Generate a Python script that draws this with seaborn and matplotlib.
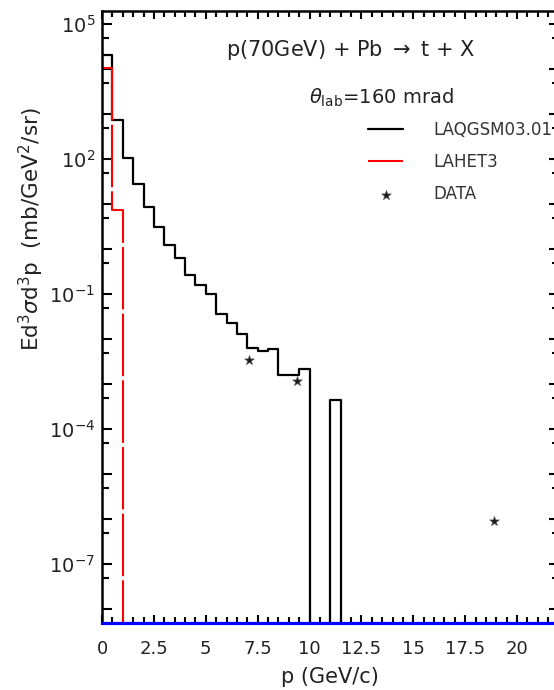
import numpy as np
import pandas as pd
import matplotlib
matplotlib.use("Agg")
import matplotlib.pyplot as plt
from matplotlib.ticker import FixedLocator, FuncFormatter, NullFormatter, MultipleLocator
import seaborn as sns

# ---------------- data ----------------
# LAQGSM03.01 histogram, bin edges 0 .. 12 GeV/c in 0.5 steps
laqgsm_edges = [0.0, 0.5, 1.0, 1.5, 2.0, 2.5, 3.0, 3.5, 4.0, 4.5, 5.0, 5.5,
                6.0, 6.5, 7.0, 7.5, 8.0, 8.5, 9.0, 9.5, 10.0, 10.5, 11.0, 11.5, 12.0]
laqgsm_vals = [2.1e4, 7.4e2, 1.05e2, 2.8e1, 8.7, 3.1, 1.23, 0.63, 0.264, 0.158,
               0.0985, 0.036, 0.023, 0.0129, 0.0062, 0.0055, 0.0060, 0.00158,
               0.00158, 0.00216, 0.0, 0.0, 4.4e-4, 0.0]
# LAHET3 histogram
lahet_edges = [0.0, 0.5, 1.0, 1.5]
lahet_vals = [1.04e4, 7.4, 0.0]
# measured data points
data_p = [7.1, 9.4, 18.9]
data_val = [3.4e-3, 1.17e-3, 9.0e-7]

x_ticks = [0, 2.5, 5, 7.5, 10, 12.5, 15, 17.5, 20]
x_ticklabels = ["0", "2.5", "5", "7.5", "10", "12.5", "15", "17.5", "20"]
y_tick_exponents = list(range(-8, 6))          # a tick at every decade
y_labelled_exponents = [5, 2, -1, -4, -7]     # decades that carry a label

FLOOR = 1e-12  # stand-in for empty bins on the log axis


def steps_frame(edges, vals):
    v = [x if x > 0 else FLOOR for x in vals]
    return pd.DataFrame({"p": edges, "y": v + [v[-1]]})


# ---------------- figure ----------------
sns.set_theme(style="ticks")
plt.rcParams["font.family"] = ["DejaVu Sans"]
plt.rcParams["axes.unicode_minus"] = True

W, H = 554, 690
fig = plt.figure(figsize=(W / 100, H / 100), dpi=100)
ax_l, ax_r, ax_t, ax_b = 102, 558.5, 11, 623
ax = fig.add_axes([ax_l / W, 1 - ax_b / H, (ax_r - ax_l) / W, (ax_b - ax_t) / H])

ax.set_yscale("log")

sns.lineplot(data=steps_frame(laqgsm_edges, laqgsm_vals), x="p", y="y",
             drawstyle="steps-post", estimator=None, sort=False,
             color="black", lw=1.6, label="LAQGSM03.01", ax=ax)
sns.lineplot(data=steps_frame(lahet_edges, lahet_vals), x="p", y="y",
             drawstyle="steps-post", estimator=None, sort=False,
             color="#ff0000", lw=1.5, linestyle=(0, (30, 2)),
             label="LAHET3", ax=ax)
sns.scatterplot(x=data_p, y=data_val, marker="*", s=55, color="#1a1a1a",
                edgecolor="#555555", linewidth=0.4, label="DATA", ax=ax, zorder=5)

ax.set_xlim(0, 22)
ax.set_ylim(10 ** -8.311, 10 ** 5.289)

# ticks
ax.xaxis.set_minor_locator(MultipleLocator(0.5))
ax.set_xticks(x_ticks)
ax.set_xticklabels(x_ticklabels)
ax.yaxis.set_major_locator(FixedLocator([10.0 ** e for e in y_tick_exponents]))
ax.yaxis.set_minor_locator(FixedLocator([5 * 10.0 ** (e - 1) for e in y_tick_exponents]))


def yfmt(v, pos):
    e = int(round(np.log10(v)))
    return f"$10^{{{e}}}$" if e in y_labelled_exponents else ""


ax.yaxis.set_major_formatter(FuncFormatter(yfmt))
ax.yaxis.set_minor_formatter(NullFormatter())

ax.tick_params(which="both", direction="in", top=True, right=True,
               width=1.5, color="black", labelcolor="#222222")
ax.tick_params(axis="x", which="major", length=6, labelsize=13, pad=12)
ax.tick_params(axis="x", which="minor", length=4)
ax.tick_params(axis="y", which="major", length=7, labelsize=14, pad=5)
ax.tick_params(axis="y", which="minor", length=5)

# spines
for s in ("left", "top"):
    ax.spines[s].set_color("black")
    ax.spines[s].set_linewidth(1.8)
ax.spines["right"].set_visible(False)
ax.spines["bottom"].set_color("#0000ff")
ax.spines["bottom"].set_linewidth(2.3)

# labels
ax.set_xlabel("p (GeV/c)", fontsize=15, color="#222222", labelpad=7)
ax.set_ylabel(r"Ed$^{3}\sigma$d$^{3}$p  (mb/GeV$^{2}$/sr)", fontsize=15.5,
              color="#222222")
ax.yaxis.set_label_coords((46 - ax_l) / (ax_r - ax_l), (ax_b - 229) / (ax_b - ax_t))

# annotations
ax.text((351 - ax_l) / (ax_r - ax_l), (ax_b - 50) / (ax_b - ax_t),
        r"p(70GeV) + Pb $\rightarrow$ t + X", transform=ax.transAxes,
        ha="center", va="center", fontsize=15, color="#222222")
ax.text((381 - ax_l) / (ax_r - ax_l), (ax_b - 98) / (ax_b - ax_t),
        r"$\theta_{\rm lab}$=160 mrad", transform=ax.transAxes,
        ha="center", va="center", fontsize=14, color="#222222")

leg = ax.legend(loc="upper left",
                bbox_to_anchor=((368 - ax_l) / (ax_r - ax_l), (ax_b - 121) / (ax_b - ax_t)),
                frameon=False, fontsize=12, handlelength=2.1, handletextpad=1.8,
                labelspacing=0.85, borderpad=0, borderaxespad=0)
for t in leg.get_texts():
    t.set_color("#333333")

fig.savefig("out.png", dpi=100)
